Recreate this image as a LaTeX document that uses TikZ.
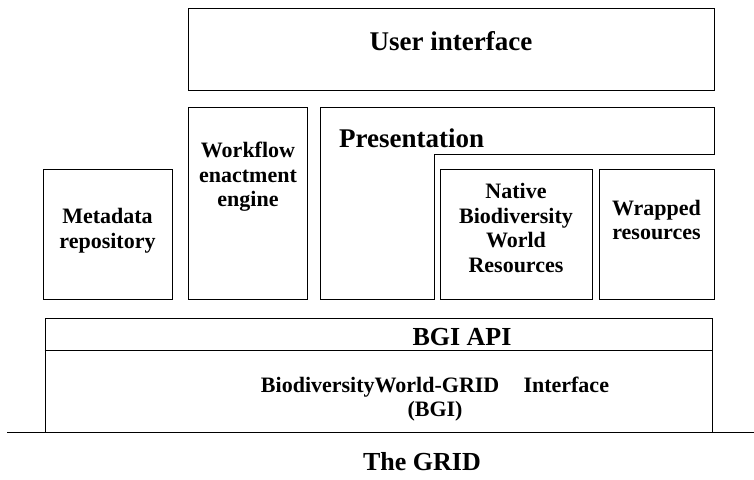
\documentclass[tikz,border=0pt]{standalone}
\usepackage{fontspec}
\setmainfont{Liberation Serif}
\usepackage{tikz}
\usetikzlibrary{positioning}

\tikzset{
    box/.style={draw, line width=1pt, inner sep=0pt},
    headtext/.style={font=\fontsize{26}{30}\selectfont\bfseries, inner sep=0pt},
    boxtext/.style={font=\fontsize{22}{24.5}\selectfont\bfseries, align=center, inner sep=0pt},
}

\begin{document}
\begin{tikzpicture}[x=1pt, y=-1pt]
    \useasboundingbox (0, 0) rectangle (754, 479);
    % boxes
    \node[box, minimum width=526pt, minimum height=82pt] (ui) at (451, 49) {};
    \node[box, minimum width=129pt, minimum height=130pt] (meta) at (107.5, 234) {};
    \node[box, minimum width=119pt, minimum height=192pt] (wf) at (247.5, 203) {};
    \node[box, minimum width=152pt, minimum height=130pt] (native) at (516, 234) {};
    \node[box, minimum width=115pt, minimum height=130pt] (wrapped) at (656.5, 234) {};
    \node[box, minimum width=667pt, minimum height=114pt] (bgi) at (378.5, 375) {};
    \draw[line width=1pt] (320, 107) -- (714, 107) -- (714, 154) -- (434, 154)
        -- (434, 299) -- (320, 299) -- cycle;
    \draw[line width=1pt] ([yshift=-33pt]bgi.north west) -- ([yshift=-33pt]bgi.north east);
    \coordinate (gridL) at (7, 432);
    \coordinate (gridR) at (754, 432);
    \draw[line width=1pt] (gridL) -- (gridR);
    % texts
    \node[headtext, anchor=base, font=\fontsize{27}{30}\selectfont\bfseries] (uitext) at (451, 50) {User interface};
    \node[headtext, anchor=base west, font=\fontsize{27}{30}\selectfont\bfseries] (prestext) at (339, 147) {Presentation};
    \node[boxtext] (metatext) at (107.5, 230.5) {Metadata\\repository};
    \node[boxtext] (wftext) at (248, 177) {Workflow\\enactment\\engine};
    \node[boxtext] (nativetext) at (516, 228) {Native\\Biodiversity\\World\\Resources};
    \node[boxtext] (wrappedtext) at (656.5, 220) {Wrapped\\resources};
    \node[headtext, anchor=base] (apitext) at (462, 345) {BGI API};
    \node[boxtext] (bgitext) at (435, 399) {BiodiversityWorld-GRID\hspace{1.1em}Interface\\(BGI)};
    \node[headtext, anchor=base] (gridtext) at (422, 470) {The GRID};
\end{tikzpicture}
\end{document}
